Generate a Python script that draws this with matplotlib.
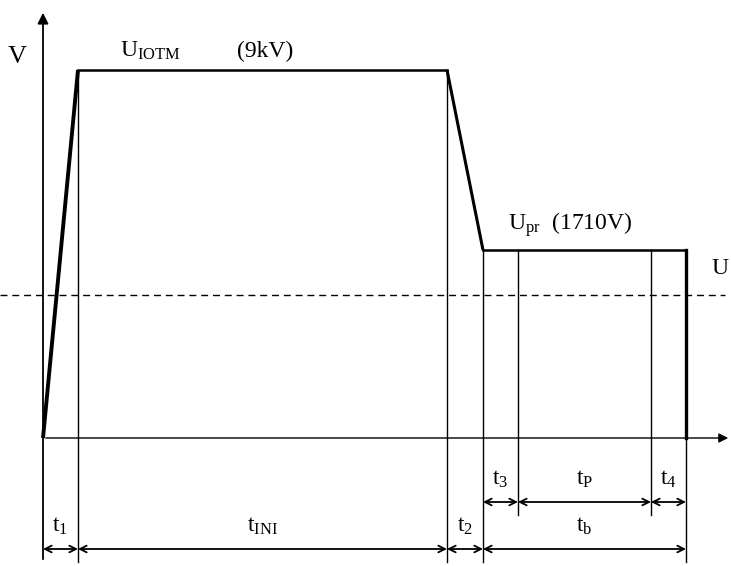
import matplotlib
matplotlib.use("Agg")
import matplotlib.pyplot as plt

plt.rcParams['font.family'] = ['Liberation Serif', 'DejaVu Serif']
plt.rcParams['mathtext.fontset'] = 'custom'
plt.rcParams['mathtext.rm'] = 'Liberation Serif'
plt.rcParams['mathtext.it'] = 'Liberation Serif'

# time breakpoints of the waveform (schematic units, not to scale)
t_names = ['0', 't1', 'tINI', 't2', 't3', 'tP', 't4']
t_points = [0, 35, 404, 440, 475, 608, 643]
# voltage levels (schematic units)
u_iotm = 368
u_pr = 188
u_thr = 143

# dimension labels: (text, start index, end index, row)
dim_labels = [
    (r'$\mathrm{t_1}$', 0, 1, 0),
    (r'$\mathrm{t_{INI}}$', 1, 2, 0),
    (r'$\mathrm{t_2}$', 2, 3, 0),
    (r'$\mathrm{t_b}$', 3, 6, 0),
    (r'$\mathrm{t_3}$', 3, 4, 1),
    (r'$\mathrm{t_P}$', 4, 5, 1),
    (r'$\mathrm{t_4}$', 5, 6, 1),
]
row_y = [-111, -64]

fig = plt.figure(figsize=(7.31, 5.66), dpi=100)
ax = fig.add_axes([0, 0, 1, 1])
ax.set_xlim(-43, 688)
ax.set_ylim(-128, 438)
ax.axis('off')

t0, t1, t2, t3, t4, t5, t6 = t_points

# axes with arrows
ax.annotate('', xy=(0, 428), xytext=(0, -124),
            arrowprops=dict(arrowstyle='-|>', color='k', lw=1.3, mutation_scale=16))
ax.annotate('', xy=(688, 0), xytext=(0, 0),
            arrowprops=dict(arrowstyle='-|>', color='k', lw=1.0, mutation_scale=14))

# waveform
ax.plot([t0, t1], [0, u_iotm], color='k', lw=2.8, solid_capstyle='butt')
ax.plot([t1, t2], [u_iotm, u_iotm], color='k', lw=1.8)
ax.plot([t2, t3], [u_iotm, u_pr], color='k', lw=2.2, solid_capstyle='butt')
ax.plot([t3, t6], [u_pr, u_pr], color='k', lw=1.8)
ax.plot([t6, t6], [u_pr, 0], color='k', lw=2.4)

# threshold line
ax.plot([-43, 682], [u_thr, u_thr], color='k', lw=1.0, ls=(0, (5, 3.5)))
ax.text(677, u_thr + 26, 'U', fontsize=17, ha='center', va='center')

# vertical reference lines
for x, ytop, ybot in [(t1, u_iotm, -124), (t2, u_iotm, -124), (t3, u_pr, -124),
                      (t4, u_pr, -77), (t5, u_pr, -77), (t6, 0, -124)]:
    ax.plot([x, x], [ytop, ybot], color='k', lw=1.0)

# dimension arrows and labels
for label, i, j, row in dim_labels:
    xa, xb = t_points[i], t_points[j]
    y = row_y[row]
    ax.annotate('', xy=(xb, y), xytext=(xa, y),
                arrowprops=dict(arrowstyle='<->', color='k', lw=1.3,
                                mutation_scale=12, shrinkA=0, shrinkB=0))
    ax.text((xa + xb) / 2, y + 12, label, fontsize=17, ha='center', va='bottom')

# level labels
ax.text(-26, 381, 'V', fontsize=19, ha='center', va='center')
ax.text(77, 376, r'$\mathrm{U_{IOTM}}$', fontsize=17, ha='left', va='bottom')
ax.text(194, 376, '(9kV)', fontsize=17, ha='left', va='bottom')
ax.text(465, 199, r'$\mathrm{U_{pr}}$  (1710V)', fontsize=17, ha='left', va='bottom')

fig.savefig('out.png', dpi=100)
